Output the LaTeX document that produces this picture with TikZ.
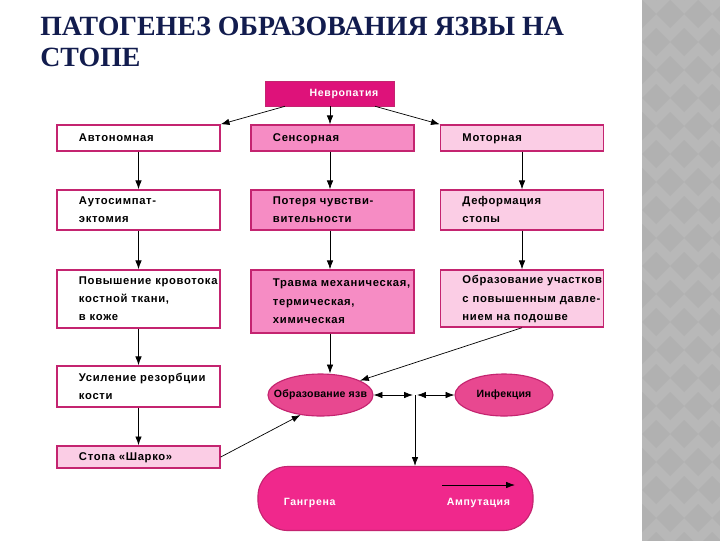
\documentclass[tikz,border=0pt]{standalone}
\usepackage{fontspec}
\setmainfont{Liberation Sans}
\newfontfamily\titlefont{Liberation Serif}
\newfontfamily\boxfont[LetterSpace=6]{Liberation Sans}
\newfontfamily\ovalfont[LetterSpace=2]{Liberation Sans}
\usetikzlibrary{shapes.geometric,arrows.meta,positioning}

\definecolor{titleblue}{RGB}{18,28,78}
\definecolor{panelgray}{RGB}{184,184,184}
\definecolor{paneldark}{RGB}{177,177,177}
\definecolor{neuromag}{RGB}{222,18,122}
\definecolor{edgemag}{RGB}{196,36,112}
\definecolor{senspink}{RGB}{246,140,196}
\definecolor{lightpink}{RGB}{251,205,229}
\definecolor{ulcerpink}{RGB}{232,72,144}
\definecolor{gangpink}{RGB}{240,40,140}

\newcommand{\boxtxt}[1]{\makebox[4.075cm][l]{\hspace{0.55cm}\begin{tabular}{@{}l@{}}#1\end{tabular}}}

\begin{document}
\begin{tikzpicture}[
    x=0.025cm, y=-0.025cm,
    stagebox/.style={rectangle, draw=edgemag, line width=1pt, minimum width=4.075cm, inner sep=0pt, font=\boxfont\bfseries\fontsize{8}{13}\selectfont},
    ovalbox/.style={ellipse, draw=edgemag, line width=0.8pt, fill=ulcerpink, minimum height=1.05cm, inner sep=0pt, font=\ovalfont\bfseries\fontsize{7.5}{9}\selectfont},
    whitetext/.style={text=white, font=\boxfont\bfseries\fontsize{7.5}{9}\selectfont},
    arrow/.style={line width=0.5pt, -{Latex[length=2.2mm,width=1.6mm]}},
    dblarrow/.style={line width=0.5pt, {Latex[length=2.2mm,width=1.6mm]}-{Latex[length=2.2mm,width=1.6mm]}}
]
\useasboundingbox (0,0) rectangle (720,540);
\fill[white] (0,0) rectangle (720,540);

% side panel
\fill[panelgray] (642,-2) rectangle (722,542);
\begin{scope}
\clip (642,-2) rectangle (722,542);
\foreach \i in {0,...,3}
  \foreach \j in {-1,...,20}
    \fill[paneldark] ({642+28*\i+14*mod(\j+2,2)},{28*\j}) -- ++(14,14) -- ++(-14,14) -- ++(-14,-14) -- cycle;
\end{scope}

% title
\node[anchor=base west, inner sep=0pt, text=titleblue, font=\titlefont\bfseries\fontsize{19.8}{22}\selectfont] (title1) at (40,35) {ПАТОГЕНЕЗ ОБРАЗОВАНИЯ ЯЗВЫ НА};
\node[anchor=base west, inner sep=0pt, text=titleblue, font=\titlefont\bfseries\fontsize{19.8}{22}\selectfont] (title2) at (40,66) {СТОПЕ};

% top
\node[rectangle, draw=edgemag, fill=neuromag, minimum width=3.225cm, minimum height=0.625cm, inner sep=0pt, whitetext] (neuro) at (330,93.5) {\hspace*{0.7cm}Невропатия};

% three branches
\node[stagebox, fill=white, minimum height=0.65cm] (auto) at (138.5,138) {\boxtxt{Автономная}};
\node[stagebox, fill=senspink, minimum height=0.65cm] (sens) at (332.5,138) {\boxtxt{Сенсорная}};
\node[stagebox, fill=lightpink, minimum height=0.65cm] (motor) at (522,138) {\boxtxt{Моторная}};

\node[stagebox, fill=white, minimum height=1cm] (symp) at (138.5,210) {\boxtxt{Аутосимпат-\\эктомия}};
\node[stagebox, fill=senspink, minimum height=1cm] (loss) at (332.5,210) {\boxtxt{Потеря чувстви-\\вительности}};
\node[stagebox, fill=lightpink, minimum height=1cm] (deform) at (522,210) {\boxtxt{Деформация\\стопы}};

\node[stagebox, fill=white, minimum height=1.45cm] (flow) at (138.5,299) {\boxtxt{Повышение кровотока\\костной ткани,\\в коже}};
\node[stagebox, fill=senspink, minimum height=1.575cm] (trauma) at (332.5,301.5) {\boxtxt{Травма механическая,\\термическая,\\химическая}};
\node[stagebox, fill=lightpink, minimum height=1.425cm] (press) at (522,298.5) {\boxtxt{Образование участков\\с повышенным давле-\\нием на подошве}};

\node[stagebox, fill=white, minimum height=1.025cm] (resorb) at (138.5,386.5) {\boxtxt{Усиление резорбции\\кости}};
\node[stagebox, fill=lightpink, minimum height=0.55cm] (charcot) at (138.5,457) {\boxtxt{Стопа «Шарко»}};

% ulcer and infection
\node[ovalbox, minimum width=2.625cm] (ulcer) at (320.5,395) {\makebox[1.6cm]{Образование язв}};
\node[ovalbox, minimum width=2.45cm] (infect) at (504,395) {\makebox[1.4cm]{Инфекция}};
\coordinate (jn) at (415,395);

% outcome
\node[rectangle, rounded corners=0.75cm, draw=edgemag, line width=0.8pt, fill=gangpink, minimum width=6.875cm, minimum height=1.6cm] (outcome) at (395.5,498.5) {};
\node[whitetext, anchor=west] (gang) at (279,503) {Гангрена};
\node[whitetext, anchor=west] (amp) at (442,503) {Ампутация};

% Arrows
\draw[arrow] ([xshift=-1.125cm]neuro.south) -- (auto.north east);
\draw[arrow] (neuro.south) -- (neuro.south |- sens.north);
\draw[arrow] ([xshift=1.125cm]neuro.south) -- (motor.north west);

\draw[arrow] (auto) -- (symp);
\draw[arrow] (symp) -- (flow);
\draw[arrow] (flow) -- (resorb);
\draw[arrow] (resorb) -- (charcot);

\draw[arrow] (neuro.south |- sens.south) -- (neuro.south |- loss.north);
\draw[arrow] (neuro.south |- loss.south) -- (neuro.south |- trauma.north);
\draw[arrow] (neuro.south |- trauma.south) -- (neuro.south |- ulcer.north);

\draw[arrow] (motor) -- (deform);
\draw[arrow] (deform) -- (press);
\draw[arrow] (press.south) -- (ulcer.20);
\draw[arrow] (charcot.east) -- (ulcer.-135);

\draw[dblarrow, shorten >=1.5pt] (ulcer.east) -- (jn);
\draw[dblarrow, shorten <=1.5pt] (jn) -- (infect.west);
\draw[arrow] (jn) -- (jn |- outcome.north);
\draw[arrow] ([yshift=0.45cm]amp.west) -- ([yshift=0.45cm]amp.east);

\end{tikzpicture}
\end{document}
